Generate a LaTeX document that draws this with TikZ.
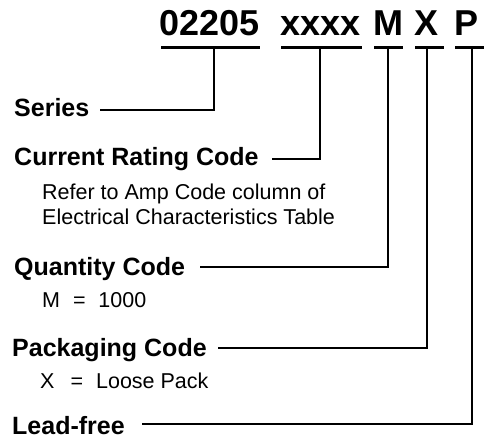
\documentclass[tikz,border=0pt]{standalone}
\usepackage{fontspec}
\setmainfont{Liberation Sans}
\begin{document}
\begin{tikzpicture}[x=1pt,y=-1pt,
  titletxt/.style={anchor=base west,inner sep=0pt,font=\fontsize{36}{40}\selectfont\bfseries},
  label/.style={anchor=base west,inner sep=0pt,font=\fontsize{25}{30}\selectfont\bfseries},
  desc/.style={anchor=base west,inner sep=0pt,align=left,font=\fontsize{21.5}{25}\selectfont},
  uline/.style={line width=3pt},
  conn/.style={line width=1.8pt}]
\useasboundingbox (0,0) rectangle (484,438);
% title parts
\node[titletxt] (t1) at (159,36) {02205};
\node[titletxt] (t2) at (280,36) {xxxx};
\node[titletxt] (t3) at (373,36) {M};
\node[titletxt] (t4) at (414,36) {X};
\node[titletxt] (t5) at (454,36) {P};
\coordinate (u1) at (214,48);
\coordinate (u2) at (320,48);
\coordinate (u3) at (388,48);
\coordinate (u4) at (427,48);
\coordinate (u5) at (472,48);
\draw[uline] (161,48) -- (260,48);
\draw[uline] (281,48) -- (362,48);
\draw[uline] (374,48) -- (403,48);
\draw[uline] (415,48) -- (444,48);
\draw[uline] (455,48) -- (484,48);
% labels
\node[label] (l1) at (14,117) {Series};
\node[label] (l2) at (14,166) {Current Rating Code};
\node[desc] (d2) at (42,200) {Refer to Amp Code column of};
\node[desc] (d2b) at (42,225) {Electrical Characteristics Table};
\node[label] (l3) at (14,275) {Quantity Code};
\node[desc] (d3) at (42,307) {M\hspace{0.6em}=\hspace{0.6em}1000};
\node[label] (l4) at (12,356) {Packaging Code};
\node[desc] (d4) at (40,388) {X\hspace{0.75em}=\hspace{0.6em}Loose Pack};
\node[label] (l5) at (12,434) {Lead-free};
\coordinate (c1) at (100,110);
\coordinate (c2) at (272,159);
\coordinate (c3) at (200,267);
\coordinate (c4) at (218,348);
\coordinate (c5) at (142,424);
\draw[conn] (c1) -| (u1);
\draw[conn] (c2) -| (u2);
\draw[conn] (c3) -| (u3);
\draw[conn] (c4) -| (u4);
\draw[conn] (c5) -| (u5);
\end{tikzpicture}
\end{document}
